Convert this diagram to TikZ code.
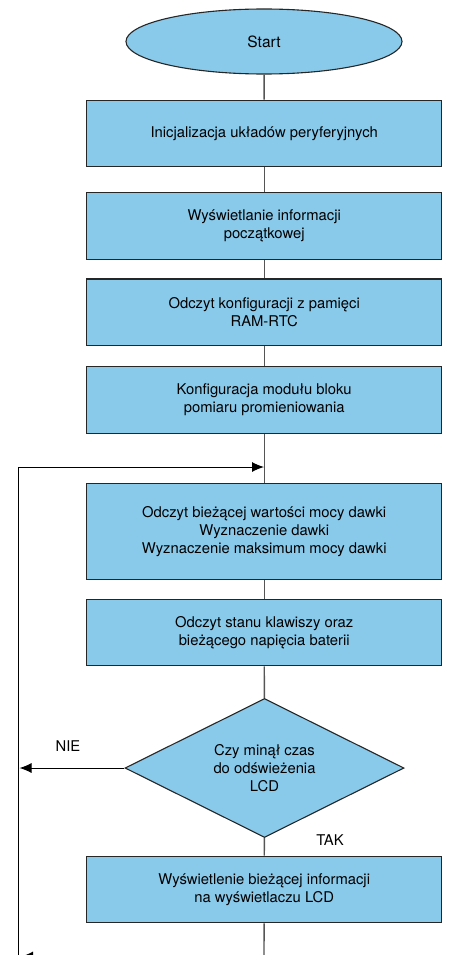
\documentclass[tikz,border=0pt]{standalone}
\usepackage{fontspec}
\setmainfont{TeX Gyre Heros}
\usetikzlibrary{shapes.geometric,arrows.meta}
\definecolor{boxblue}{RGB}{137,201,234}
\definecolor{conn}{RGB}{85,85,85}
\begin{document}
\begin{tikzpicture}[x=1pt,y=-1pt,
  every node/.style={font=\fontsize{14.8}{18}\selectfont},
  stepbox/.style={draw=black!85, line width=1.3pt, fill=boxblue, minimum width=355pt, minimum height=66.5pt, align=center, inner sep=0pt},
  startbox/.style={ellipse, draw=black!85, line width=1.1pt, fill=boxblue, minimum width=276pt, minimum height=65pt, inner sep=0pt, font=\fontsize{15.5}{18}\selectfont},
  decbox/.style={diamond, shape aspect=2, draw=black!85, line width=1.1pt, fill=boxblue, minimum width=279pt, minimum height=139pt, inner sep=0pt, align=center},
  flow/.style={draw=conn, line width=1.4pt},
  loopline/.style={draw=black, line width=1pt},
  looparrow/.style={draw=black, line width=1pt, -{Latex[length=12pt,width=10pt]}},
  lbl/.style={inner sep=0pt}
]
\useasboundingbox (0,0) rectangle (448,955);
\clip (0,0) rectangle (448,955);

\node[startbox] (start) at (264,41.5) {Start};
\node[stepbox] (b1) at (264.2,133.5) {Inicjalizacja układów peryferyjnych};
\node[stepbox] (b2) at (264.2,226) {Wyświetlanie informacji\\początkowej};
\node[stepbox] (b3) at (264.2,312.3) {Odczyt konfiguracji z pamięci\\RAM-RTC};
\node[stepbox] (b4) at (264.2,400) {Konfiguracja modułu bloku\\pomiaru promieniowania};
\node[stepbox, minimum height=96pt] (b5) at (264.2,531.3) {Odczyt bieżącej wartości mocy dawki\\Wyznaczenie dawki\\Wyznaczenie maksimum mocy dawki};
\node[stepbox] (b6) at (264.2,632.5) {Odczyt stanu klawiszy oraz\\bieżącego napięcia baterii};
\node[decbox] (d) at (264.5,768) {Czy minął czas\\do odświeżenia\\LCD};
\node[stepbox] (b7) at (264.2,889.5) {Wyświetlenie bieżącej informacji\\na wyświetlaczu LCD};

\node[lbl] (tak) at (330,840) {TAK};
\node[lbl] (nie) at (68,746) {NIE};

\coordinate (loopTop) at (18,467);
\coordinate (loopIn) at (264,467);
\coordinate (nieEnd) at (19.5,768);
\coordinate (bot) at (264,956.5);
\coordinate (botEnd) at (21,956.5);
\coordinate (loopBot) at (18,960);

\path[flow] (start) -- (b1);
\path[flow] (b1) -- (b2);
\path[flow] (b2) -- (b3);
\path[flow] (b3) -- (b4);
\path[flow] (b4) -- (b5);
\path[flow] (b5) -- (b6);
\path[flow] (b6) -- (d);
\path[flow] (d) -- (b7);
\path[flow] (b7) -- (bot);

\path[loopline] (loopBot) -- (loopTop);
\path[looparrow] (loopTop) -- (loopIn);
\path[looparrow] (d.west) -- (nieEnd);
\path[looparrow] (bot) -- (botEnd);
\end{tikzpicture}
\end{document}
